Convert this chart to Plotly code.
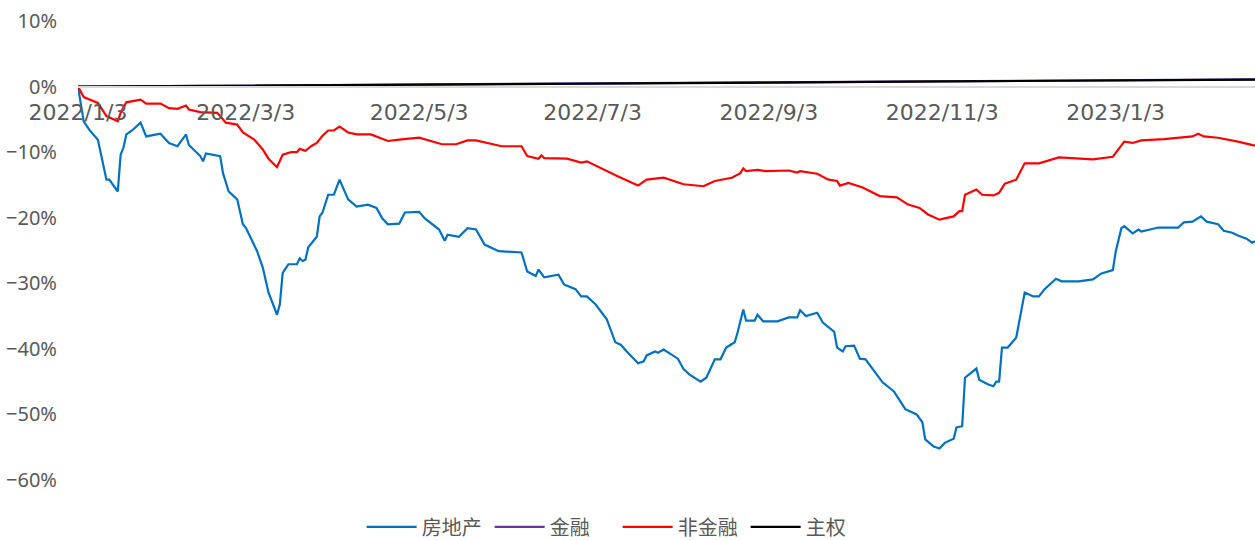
import plotly.graph_objects as go

# ---- data (cumulative return, %) ----
re_dates = ["2022-01-03","2022-01-05","2022-01-07","2022-01-10","2022-01-13","2022-01-14","2022-01-17","2022-01-18",
    "2022-01-19","2022-01-20","2022-01-22","2022-01-25","2022-01-27","2022-02-01","2022-02-04","2022-02-07","2022-02-10",
    "2022-02-11","2022-02-15","2022-02-16","2022-02-17","2022-02-22","2022-02-23","2022-02-25","2022-02-28","2022-03-02",
    "2022-03-03","2022-03-07","2022-03-09","2022-03-11","2022-03-14","2022-03-15","2022-03-16","2022-03-18","2022-03-21",
    "2022-03-22","2022-03-23","2022-03-24","2022-03-25","2022-03-28","2022-03-29","2022-03-30","2022-04-01","2022-04-03",
    "2022-04-05","2022-04-06","2022-04-08","2022-04-11","2022-04-15","2022-04-18","2022-04-20","2022-04-22","2022-04-26",
    "2022-04-28","2022-05-03","2022-05-05","2022-05-10","2022-05-12","2022-05-13","2022-05-17","2022-05-20","2022-05-23",
    "2022-05-26","2022-05-31","2022-06-08","2022-06-10","2022-06-13","2022-06-14","2022-06-16","2022-06-21","2022-06-23",
    "2022-06-27","2022-06-29","2022-07-01","2022-07-04","2022-07-08","2022-07-11","2022-07-13","2022-07-15","2022-07-19",
    "2022-07-21","2022-07-22","2022-07-25","2022-07-26","2022-07-28","2022-08-02","2022-08-04","2022-08-06","2022-08-10",
    "2022-08-12","2022-08-15","2022-08-17","2022-08-19","2022-08-22","2022-08-23","2022-08-25","2022-08-26","2022-08-29",
    "2022-08-30","2022-09-01","2022-09-06","2022-09-10","2022-09-13","2022-09-14","2022-09-16","2022-09-20","2022-09-22",
    "2022-09-26","2022-09-27","2022-09-29","2022-09-30","2022-10-03","2022-10-05","2022-10-07","2022-10-11","2022-10-13",
    "2022-10-17","2022-10-21","2022-10-25","2022-10-27","2022-10-28","2022-10-31","2022-11-02","2022-11-04","2022-11-07",
    "2022-11-08","2022-11-10","2022-11-11","2022-11-15","2022-11-16","2022-11-19","2022-11-21","2022-11-22","2022-11-23",
    "2022-11-24","2022-11-26","2022-11-29","2022-11-30","2022-12-02","2022-12-05","2022-12-07","2022-12-09","2022-12-13",
    "2022-12-15","2022-12-21","2022-12-26","2022-12-29","2023-01-02","2023-01-03","2023-01-05","2023-01-06","2023-01-09",
    "2023-01-11","2023-01-12","2023-01-18","2023-01-25","2023-01-27","2023-01-30","2023-02-02","2023-02-04","2023-02-08",
    "2023-02-10","2023-02-13","2023-02-15","2023-02-18","2023-02-20","2023-02-21"]
re_vals = [0,-5.3,-6.6,-8.1,-14.2,-14.2,-16.0,-10.4,
    -9.3,-7.3,-6.7,-5.5,-7.6,-7.2,-8.6,-9.1,-7.3,
    -8.9,-10.6,-11.4,-10.2,-10.6,-13.2,-16.0,-17.2,-21.0,
    -21.5,-25.1,-27.6,-31.4,-34.8,-33.2,-28.4,-27.1,-27.1,
    -26.2,-26.6,-26.4,-24.5,-22.9,-19.8,-19.2,-16.5,-16.5,
    -14.2,-15.2,-17.2,-18.3,-18.0,-18.5,-20.1,-21.0,-20.9,
    -19.2,-19.1,-20.1,-21.8,-23.5,-22.6,-22.9,-21.6,-21.8,
    -24.1,-25.1,-25.3,-28.2,-28.9,-27.9,-29.1,-28.7,-30.2,
    -30.9,-32.0,-32.0,-33.2,-35.5,-39.0,-39.4,-40.4,-42.2,
    -41.9,-41.0,-40.4,-40.6,-40.1,-41.5,-43.1,-43.9,-45.0,
    -44.4,-41.6,-41.6,-39.8,-39.0,-37.5,-34.0,-35.7,-35.7,
    -34.8,-35.8,-35.8,-35.2,-35.2,-34.1,-35.0,-34.5,-36.0,
    -37.4,-39.8,-40.4,-39.6,-39.5,-41.5,-41.6,-43.9,-45.1,
    -46.5,-49.2,-50.0,-51.2,-53.8,-54.9,-55.2,-54.3,-53.7,
    -52.0,-51.8,-44.4,-43.0,-44.7,-45.4,-45.7,-45.0,-45.0,
    -39.8,-39.8,-38.3,-36.0,-31.4,-32.0,-32.0,-30.9,-29.3,
    -29.7,-29.7,-29.4,-28.5,-28.0,-25.2,-21.6,-21.3,-22.4,
    -21.8,-22.1,-21.5,-21.5,-20.7,-20.6,-19.8,-20.6,-21.0,
    -22.0,-22.3,-22.7,-23.2,-23.8,-23.6]

nf_dates = ["2022-01-03","2022-01-05","2022-01-10","2022-01-13","2022-01-17","2022-01-18","2022-01-20","2022-01-25",
    "2022-01-27","2022-02-01","2022-02-04","2022-02-07","2022-02-10","2022-02-11","2022-02-15","2022-02-21","2022-02-24",
    "2022-02-28","2022-03-02","2022-03-06","2022-03-09","2022-03-11","2022-03-14","2022-03-16","2022-03-19","2022-03-21",
    "2022-03-22","2022-03-24","2022-03-26","2022-03-28","2022-03-30","2022-04-01","2022-04-03","2022-04-05","2022-04-08",
    "2022-04-11","2022-04-16","2022-04-22","2022-04-26","2022-05-03","2022-05-11","2022-05-16","2022-05-20","2022-05-23",
    "2022-06-01","2022-06-08","2022-06-10","2022-06-14","2022-06-15","2022-06-16","2022-06-24","2022-06-29","2022-07-01",
    "2022-07-06","2022-07-12","2022-07-19","2022-07-22","2022-07-28","2022-08-04","2022-08-11","2022-08-15","2022-08-21",
    "2022-08-24","2022-08-25","2022-08-26","2022-08-30","2022-09-02","2022-09-10","2022-09-13","2022-09-14","2022-09-20",
    "2022-09-24","2022-09-27","2022-09-28","2022-10-01","2022-10-06","2022-10-12","2022-10-18","2022-10-22","2022-10-26",
    "2022-10-29","2022-11-02","2022-11-07","2022-11-09","2022-11-10","2022-11-11","2022-11-15","2022-11-17","2022-11-21",
    "2022-11-23","2022-11-25","2022-11-29","2022-12-02","2022-12-07","2022-12-14","2022-12-26","2023-01-02","2023-01-06",
    "2023-01-09","2023-01-12","2023-01-20","2023-01-30","2023-02-01","2023-02-03","2023-02-08","2023-02-15","2023-02-21"]
nf_vals = [0,-1.6,-2.5,-4.5,-5.3,-4.0,-2.4,-2.0,
    -2.6,-2.6,-3.3,-3.4,-2.9,-3.5,-3.9,-4.0,-5.5,
    -5.8,-7.0,-8.1,-9.6,-11.0,-12.3,-10.4,-10.0,-10.0,
    -9.5,-9.8,-9.1,-8.6,-7.5,-6.7,-6.7,-6.1,-7.0,
    -7.3,-7.3,-8.3,-8.1,-7.8,-8.8,-8.8,-8.2,-8.2,
    -9.1,-9.1,-10.6,-11.0,-10.5,-10.9,-11.0,-11.6,-11.4,
    -12.5,-13.7,-15.1,-14.2,-13.9,-14.9,-15.2,-14.4,-13.9,
    -13.2,-12.5,-12.9,-12.7,-12.9,-12.8,-13.1,-12.9,-13.3,
    -14.2,-14.4,-15.1,-14.7,-15.4,-16.7,-16.9,-18.0,-18.5,
    -19.5,-20.3,-19.8,-19.0,-19.0,-16.5,-15.7,-16.5,-16.6,
    -16.2,-14.8,-14.2,-11.7,-11.7,-10.8,-11.1,-10.7,-8.4,
    -8.6,-8.2,-8.0,-7.6,-7.2,-7.6,-7.8,-8.4,-9.0]

fin_dates = ["2022-01-03","2022-03-03","2022-05-03","2022-07-03","2022-09-03","2022-11-03","2023-01-03","2023-02-21"]
fin_vals = [0,0.15,0.33,0.50,0.66,0.83,1.00,1.10]

sov_dates = ["2022-01-03","2022-03-03","2022-05-03","2022-07-03","2022-09-03","2022-11-03","2023-01-03","2023-02-21"]
sov_vals = [0,0.12,0.29,0.45,0.61,0.78,0.95,1.07]

x_ticks = ["2022-01-03","2022-03-03","2022-05-03","2022-07-03","2022-09-03","2022-11-03","2023-01-03"]
x_ticklabels = ["2022/1/3","2022/3/3","2022/5/3","2022/7/3","2022/9/3","2022/11/3","2023/1/3"]
y_ticks = [10,0,-10,-20,-30,-40,-50,-60]
y_ticklabels = ["10%","0%","\u221210%","\u221220%","\u221230%","\u221240%","\u221250%","\u221260%"]

series = [
    ("房地产", re_dates, re_vals, "#0070C0"),
    ("金融", fin_dates, fin_vals, "#7030A0"),
    ("非金融", nf_dates, nf_vals, "#FF0000"),
    ("主权", sov_dates, sov_vals, "#000000"),
]

fig = go.Figure()
for name, d, v, c in series:
    fig.add_trace(go.Scatter(x=d, y=v, name=name, mode="lines",
                             line=dict(color=c, width=2.2)))

YMIN, YMAX = -60, 10
fig.update_layout(
    width=1255, height=540,
    margin=dict(l=78, r=0, t=21, b=60, autoexpand=False),
    paper_bgcolor="white", plot_bgcolor="white",
    showlegend=True,
    legend=dict(orientation="h", x=0.241, xanchor="left", y=-0.102, yanchor="middle",
                font=dict(family="Noto Sans CJK SC", size=20, color="#595959"),
                itemwidth=50, entrywidth=63, entrywidthmode="pixels", tracegroupgap=0),
    xaxis=dict(type="date", range=["2022-01-03", "2023-02-21"],
               tickvals=x_ticks, ticktext=x_ticklabels, automargin=False,
               anchor="free", position=(0 - YMIN) / (YMAX - YMIN),
               showline=True, linecolor="#D9D9D9", linewidth=1.5,
               showgrid=False, zeroline=False, ticks="", ticklabelstandoff=6,
               tickfont=dict(family="DejaVu Sans", size=22, color="#595959")),
    yaxis=dict(range=[YMIN, YMAX], tickvals=y_ticks, ticktext=y_ticklabels,
               showgrid=False, zeroline=False, showline=False, ticks="",
               ticklabelstandoff=20, automargin=False,
               tickfont=dict(family="Noto Sans", size=20, color="#595959")),
)

fig.write_html("out.html", config={"displayModeBar": False},
               post_script="document.body.style.margin='0';document.body.style.overflow='hidden';")
